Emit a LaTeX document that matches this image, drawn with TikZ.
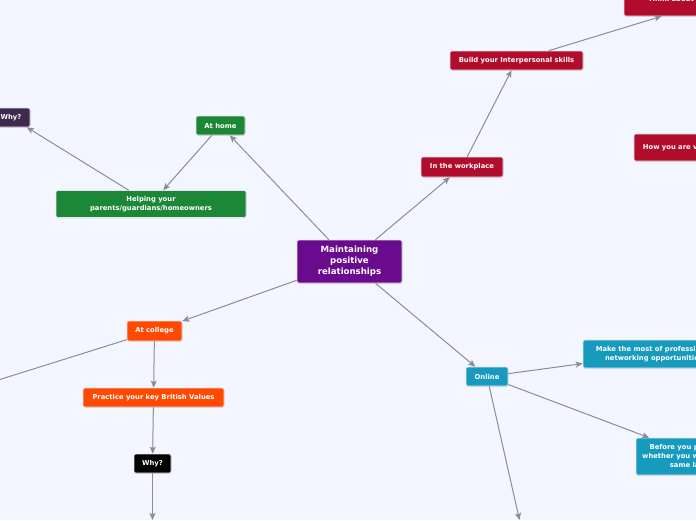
\documentclass[tikz,border=0pt]{standalone}
\usepackage{fontspec}
\setmainfont{DejaVu Sans}
\usetikzlibrary{arrows.meta, shadows}
\definecolor{bgcol}{RGB}{243,246,254}
\definecolor{linecol}{RGB}{138,141,150}
\definecolor{purp}{RGB}{106,10,140}
\definecolor{homegreen}{RGB}{28,135,54}
\definecolor{whypurp}{RGB}{62,42,78}
\definecolor{workred}{RGB}{178,12,44}
\definecolor{webteal}{RGB}{22,155,190}
\definecolor{collorange}{RGB}{255,72,0}

\tikzset{
  box/.style={rounded corners=2pt, draw=white!80!gray, line width=0.6pt, text=white, align=center, inner sep=0pt,
    font=\bfseries\fontsize{6.8}{9.5}\selectfont,
    drop shadow={shadow xshift=0.5pt, shadow yshift=-0.8pt, opacity=0.25}},
  conn/.style={draw=linecol, line width=1pt, -{Stealth[length=7pt,width=6pt,inset=1.5pt]}},
}

\begin{document}
\begin{tikzpicture}[x=1pt,y=-1pt]
        \useasboundingbox (0,0) rectangle (696,520);
        \fill[bgcol] (0,0) rectangle (696,520);
        \clip (0,0) rectangle (696,520);

        %central topic
        \node[box, fill=purp, minimum width=105pt, minimum height=43pt, font=\bfseries\fontsize{8.6}{11}\selectfont] (center) at (349.5,261.5) {Maintaining\\positive\\relationships};

        %at home branch
        \node[box, fill=homegreen, minimum width=49pt, minimum height=19pt] (athome) at (220.5,125.5) {At home};
        \node[box, fill=homegreen, minimum width=190pt, minimum height=27pt] (helping) at (151,204) {Helping your\\parents/guardians/homeowners};
        \node[box, fill=whypurp, minimum width=38pt, minimum height=19pt] (whyhome) at (11,117.5) {Why?};

        %workplace branch
        \node[box, fill=workred, minimum width=82pt, minimum height=20pt] (workplace) at (462,167) {In the workplace};
        \node[box, fill=workred, minimum width=133pt, minimum height=19pt] (build) at (516.5,60.5) {Build your Interpersonal skills};
        \node[box, fill=workred, minimum width=182pt, minimum height=32pt] (think) at (715,0) {Think about how you communicate};
        \node[box, fill=workred, minimum width=134pt, minimum height=27pt] (howview) at (701,147.5) {How you are viewed by others};

        %online branch
        \node[box, fill=webteal, minimum width=42pt, minimum height=19pt] (online) at (487,376.5) {Online};
        \node[box, fill=webteal, minimum width=142pt, minimum height=28pt] (network) at (654,354) {Make the most of professional\\networking opportunities};
        \node[box, fill=webteal, minimum width=126pt, minimum height=37pt, font=\bfseries\fontsize{6.8}{8.8}\selectfont] (before) at (699,456.5) {Before you post, consider\\whether you would speak the\\same language};

        %college branch
        \node[box, fill=collorange, minimum width=55pt, minimum height=20pt] (college) at (154.5,331) {At college};
        \node[box, fill=collorange, minimum width=141pt, minimum height=19pt] (values) at (153.5,397.5) {Practice your key British Values};
        \node[box, fill=black, minimum width=37pt, minimum height=19pt] (whycoll) at (152.5,463.5) {Why?};

        %free ends off the page
        \coordinate (offleft) at (-40,392);
        \coordinate (offcoll) at (152.5,520);
        \coordinate (offweb) at (519.5,520);

        %connectors
        \draw[conn] (center) -- (athome);
        \draw[conn] (athome) -- (helping);
        \draw[conn] (helping) -- (whyhome);
        \draw[conn] (center) -- (workplace);
        \draw[conn] (workplace) -- (build);
        \draw[conn] (build) -- (think);
        \draw[conn] (center) -- (college);
        \draw[conn] (college) -- (offleft);
        \draw[conn] (college) -- (values);
        \draw[conn] (values) -- (whycoll);
        \draw[conn] (whycoll) -- (offcoll);
        \draw[conn] (center) -- (online);
        \draw[conn] (online) -- (network);
        \draw[conn] (online) -- (before);
        \draw[conn] (online) -- (offweb);
\end{tikzpicture}
\end{document}
